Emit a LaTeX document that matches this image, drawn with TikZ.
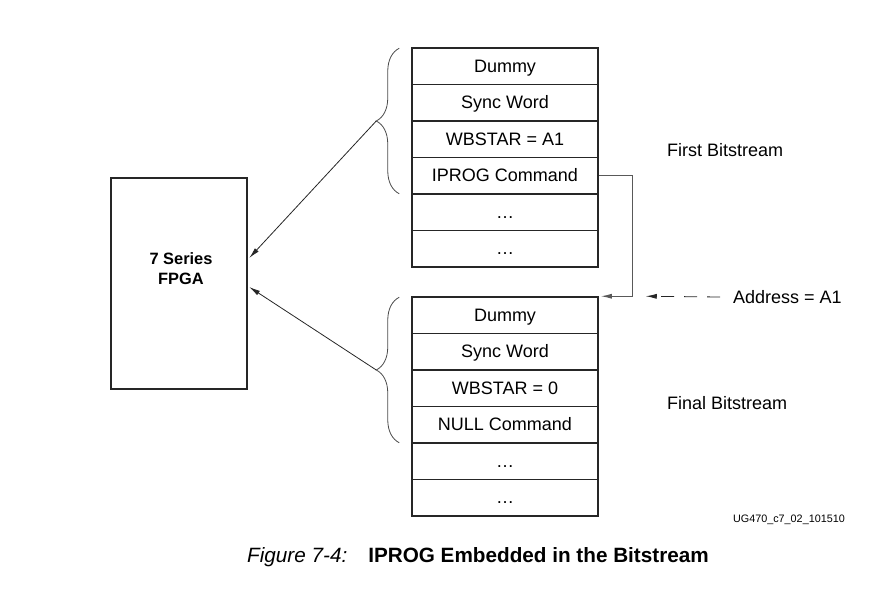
\documentclass[tikz,border=0pt]{standalone}
\usepackage{fontspec}
\setmainfont{Liberation Sans}
\usetikzlibrary{calc,decorations.pathreplacing,arrows.meta}

\tikzset{
    word/.style={draw=black!85, line width=1.5pt, minimum width=186pt, minimum height=36.5pt,
        inner sep=0pt, text height=12pt, text depth=0pt, font=\fontsize{18}{20}\selectfont},
    chip/.style={draw=black!85, line width=1.5pt, minimum width=136pt, minimum height=211pt, inner sep=0pt},
    note/.style={inner sep=0pt, anchor=west, font=\fontsize{18}{20}\selectfont},
    bitbrace/.style={decorate, decoration={brace, amplitude=23pt}, line width=0.8pt, black!70},
    arr/.style={-{Latex[length=11pt,width=5pt]}, line width=0.8pt, black!85}
}

\begin{document}
\begin{tikzpicture}[x=1pt,y=-1pt]
    \useasboundingbox (0,0) rectangle (883,591);

    % FPGA
    \node[chip] (fpga) at (179,283.5) {};
    \node[align=center, font=\fontsize{16.4}{20}\bfseries] (fpgalabel) at (181,269) {7 Series\\FPGA};

    % two bitstreams
    \foreach \t [count=\i] in {Dummy,Sync Word,WBSTAR = A1,IPROG Command,\ldots,\ldots}
        \node[word] (first\i) at (505,{48+18.25+(\i-1)*36.5}) {\t};
    \foreach \t [count=\i] in {Dummy,Sync Word,WBSTAR = 0,NULL Command,\ldots,\ldots}
        \node[word] (final\i) at (505,{297+18.25+(\i-1)*36.5}) {\t};

    % braces
    \draw[bitbrace] ($(first4.south west)+(-12,-1)$) -- ($(first1.north west)+(-12,1)$);
    \draw[bitbrace] ($(final4.south west)+(-12,-1)$) -- ($(final1.north west)+(-12,1)$);
    \coordinate (firsttip) at ($(first1.north west)!0.5!(first4.south west)+(-35,0)$);
    \coordinate (finaltip) at ($(final1.north west)!0.5!(final4.south west)+(-35,0)$);

    \draw[arr] (firsttip) -- ($(fpga.east)+(1.5,-25.5)$);
    \draw[arr] (finaltip) -- ($(fpga.east)+(1.5,3.5)$);

    % labels
    \node[note] (firstname) at (667,150) {First Bitstream};
    \node[note] (finalname) at (667,403) {Final Bitstream};
    \node[note, inner xsep=13pt] (addr) at (720,297) {Address = A1};

    % IPROG jump
    \coordinate (jump) at ($(final1.north east)+(2,0)$);
    \coordinate (addrend) at ($(final1.north east)+(47,0)$);
    \draw[arr, black!65, line width=1.1pt] (first4.east) -- ++(34,0) |- (jump);
    \draw[arr, dash pattern=on 13pt off 10pt] (addr.west) -- (addrend);

    \node[inner sep=0pt, anchor=east, font=\fontsize{10.8}{12}\selectfont] (figid) at (845,520) {UG470\_c7\_02\_101510};
    \node[inner sep=0pt, anchor=west, font=\fontsize{20.7}{24}\selectfont] (caption) at (247,557)
        {\itshape Figure 7-4:\hspace{21pt}\upshape\bfseries IPROG Embedded in the Bitstream};
\end{tikzpicture}
\end{document}
